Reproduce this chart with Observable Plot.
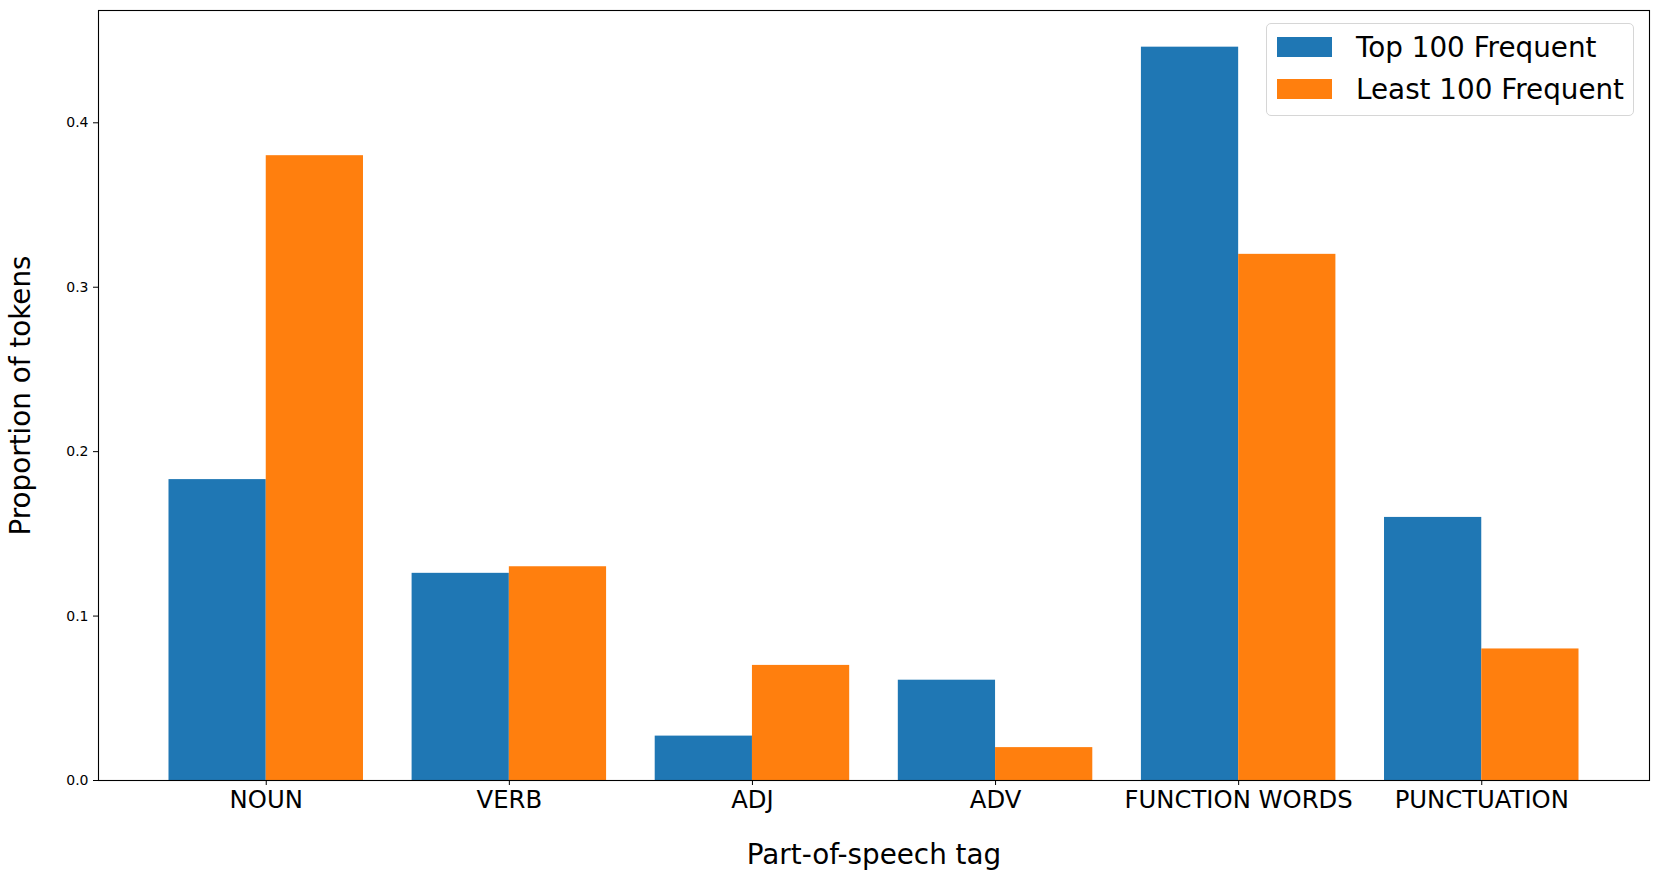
<!DOCTYPE html>
<html>
<head>
<meta charset="utf-8">
<script src="https://cdn.jsdelivr.net/npm/d3@7"></script>
<script src="https://cdn.jsdelivr.net/npm/@observablehq/plot@0.6"></script>
<style>
  html, body { margin: 0; padding: 0; background: #fff; }
  #wrap { position: relative; width: 1657px; height: 879px; font-family: "DejaVu Sans", sans-serif; }
  #legend {
    position: absolute; left: 1266px; top: 23px; width: 366px; height: 91px;
    border: 1px solid #d6d6d6; border-radius: 5px; background: rgba(255,255,255,0.8);
    box-sizing: content-box;
  }
  .sw { position: absolute; left: 10px; width: 55px; height: 20px; }
  .lt { position: absolute; left: 89px; font-size: 27.8px; line-height: 28px; white-space: nowrap; color: #000; }
</style>
</head>
<body>
<div id="wrap"></div>
<script>
const categories = ["NOUN", "VERB", "ADJ", "ADV", "FUNCTION WORDS", "PUNCTUATION"];
const top100 = [0.183, 0.126, 0.027, 0.061, 0.446, 0.160];
const least100 = [0.380, 0.130, 0.070, 0.020, 0.320, 0.080];
const seriesNames = ["Top 100 Frequent", "Least 100 Frequent"];
const seriesColors = ["#1f77b4", "#ff7f0e"];
const yTicks = [0, 0.1, 0.2, 0.3, 0.4];
const xLabel = "Part-of-speech tag";
const yLabel = "Proportion of tokens";

const barW = 0.4;
const rows = categories.flatMap((c, i) => [
  {i, s: 0, v: top100[i]},
  {i, s: 1, v: least100[i]}
]);
const n = categories.length;
const lo = -barW, hi = (n - 1) + barW;
const pad = 0.05 * (hi - lo);
const yMax = d3.max(rows, d => d.v) * 1.05;

const chart = Plot.plot({
  width: 1657,
  height: 879,
  marginLeft: 98,
  marginRight: 8,
  marginTop: 10,
  marginBottom: 99,
  style: {fontFamily: "DejaVu Sans, sans-serif", color: "#000", background: "#fff"},
  x: {domain: [lo - pad, hi + pad]},
  y: {domain: [0, yMax]},
  color: {domain: seriesNames, range: seriesColors},
  marks: [
    Plot.rectY(rows, {
      x1: d => d.i - barW + d.s * barW,
      x2: d => d.i + d.s * barW,
      y1: 0,
      y2: d => d.v,
      fill: d => seriesNames[d.s]
    }),
    Plot.axisY({ticks: yTicks, tickFormat: d3.format(".1f"), tickSize: 5, tickPadding: 5, fontSize: 14, label: null, stroke: "#000"}),
    Plot.axisX({ticks: d3.range(n), tickFormat: i => categories[i], tickSize: 5, tickPadding: 5, fontSize: 24.3, label: null, stroke: "#000"}),
    Plot.frame({stroke: "#000", strokeWidth: 1.1}),
    Plot.text([xLabel], {text: d => d, frameAnchor: "bottom", dy: 83, lineAnchor: "bottom", textAnchor: "middle", fontSize: 27.8, fill: "#000"}),
    Plot.text([yLabel], {text: d => d, frameAnchor: "left", dx: -77, rotate: -90, lineAnchor: "middle", textAnchor: "middle", fontSize: 27.8, fill: "#000"})
  ]
});
const wrap = document.getElementById("wrap");
wrap.appendChild(chart);

const legend = document.createElement("div");
legend.id = "legend";
seriesNames.forEach((name, k) => {
  const sw = document.createElement("div");
  sw.className = "sw";
  sw.style.top = (13 + k * 42) + "px";
  sw.style.background = seriesColors[k];
  const lt = document.createElement("div");
  lt.className = "lt";
  lt.style.top = (10 + k * 42) + "px";
  lt.textContent = name;
  legend.appendChild(sw);
  legend.appendChild(lt);
});
wrap.appendChild(legend);
</script>
</body>
</html>
